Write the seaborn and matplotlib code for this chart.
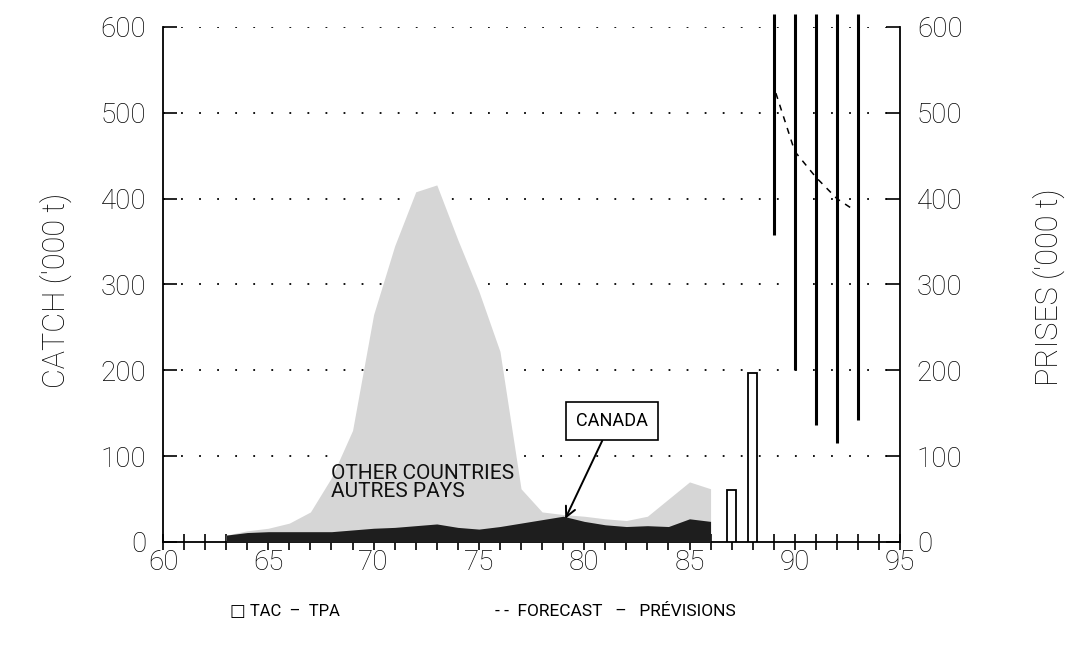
import matplotlib
matplotlib.use("Agg")
import matplotlib.pyplot as plt
import seaborn as sns
import numpy as np
import pandas as pd

# ---------------- data ----------------
years = [63, 64, 65, 66, 67, 68, 69, 70, 71, 72, 73, 74, 75, 76, 77, 78,
         79, 80, 81, 82, 83, 84, 85, 86]
canada = [8, 11, 12, 12, 12, 12, 14, 16, 17, 19, 21, 17, 15, 18, 22, 26,
          30, 24, 20, 18, 19, 18, 27, 24]
total = [8, 13, 16, 22, 35, 75, 130, 265, 345, 408, 416, 352, 292, 222, 62, 35,
         32, 30, 27, 25, 30, 50, 70, 62]

tac_years = [87, 88]
tac_values = [61, 197]

range_years = [89, 90, 91, 92, 93]
range_low = [358, 200, 136, 115, 142]
range_high = [615, 615, 615, 615, 615]

forecast_years = [89.1, 90, 91, 92, 92.8]
forecast_values = [523, 455, 425, 400, 387]

xticks = [60, 65, 70, 75, 80, 85, 90, 95]
yticks = [0, 100, 200, 300, 400, 500, 600]

# ---------------- style ----------------
sns.set_theme(style="white")
plt.rcParams['font.family'] = ['Roboto', 'DejaVu Sans']
for k in ['text.color', 'axes.labelcolor', 'xtick.color', 'ytick.color']:
    plt.rcParams[k] = 'black'

fig = plt.figure(figsize=(10.69, 6.49), dpi=100)
ax = fig.add_axes([0.1525, 0.1649, 0.842 - 0.1525, 0.9584 - 0.1649])

df = pd.DataFrame({"year": years, "canada": canada, "total": total})

# other countries (stacked total) and Canada
ax.fill_between(df["year"], 0, df["total"], color="#d6d6d6", linewidth=0, zorder=2)
ax.fill_between(df["year"], 0, df["canada"], color="#1e1e1e", linewidth=0, zorder=3)

# TAC bars
ax.bar(tac_years, tac_values, width=0.42, facecolor="white", edgecolor="black",
       linewidth=1.3, zorder=4)

# TAC ranges beyond the chart
ax.vlines(range_years, range_low, range_high, colors="black", linewidth=2.2,
          zorder=4, clip_on=False)

# forecast
fdf = pd.DataFrame({"year": forecast_years, "value": forecast_values})
sns.lineplot(data=fdf, x="year", y="value", ax=ax, color="black",
             linewidth=1.1, linestyle=(0, (4, 4)), zorder=5)

# axes
ax.set_xlim(60, 95)
ax.set_ylim(0, 600)
ax.set_xticks(xticks)
ax.set_xticks(np.arange(60, 96, 1), minor=True)
ax.set_yticks(yticks)
ax.set_xlabel("")
ax.set_ylabel("")

for s in ["left", "bottom", "right"]:
    ax.spines[s].set_visible(True)
    ax.spines[s].set_color("black")
    ax.spines[s].set_linewidth(1.3)
ax.spines["top"].set_visible(False)

ax.tick_params(axis="x", which="both", direction="inout", length=12, width=1.2,
               colors="black", labelsize=20, pad=-1, bottom=True)
ax.tick_params(axis="y", which="major", direction="in", length=10, width=1.2,
               colors="black", labelsize=20, left=True, right=True,
               labelleft=True, labelright=True, pad=12)
for lab in ax.get_xticklabels() + ax.get_yticklabels():
    lab.set_fontweight("light")

# dotted grid
for y in yticks[1:]:
    ax.axhline(y, color="black", linestyle=(0, (1, 9)), linewidth=1.3, zorder=1)

# axis titles
fig.text(0.052, 0.553, "CATCH ('000 t)", rotation=90, ha="center", va="center",
         fontsize=22, fontweight="light")
fig.text(0.981, 0.558, "PRISES ('000 t)", rotation=90, ha="center", va="center",
         fontsize=22, fontweight="light")

# annotations
ax.text(68.0, 91, "OTHER COUNTRIES\nAUTRES PAYS", fontsize=15, ha="left",
        va="top", linespacing=0.95, zorder=6, color="#111111")
ax.annotate("CANADA", xy=(79.1, 27), xytext=(81.3, 141), fontsize=13,
            ha="center", va="center", zorder=6,
            bbox=dict(boxstyle="square,pad=0.55", facecolor="white",
                      edgecolor="black", linewidth=1.2),
            arrowprops=dict(arrowstyle="->", color="black", linewidth=1.4,
                            shrinkA=0, shrinkB=0, mutation_scale=18))

# legend texts
fig.text(0.215, 0.058, "\u25A1 TAC  \u2013  TPA", fontsize=12, ha="left", va="center")
fig.text(0.463, 0.058, "- -  FORECAST   \u2013   PR\u00c9VISIONS", fontsize=12.5,
         ha="left", va="center")

fig.savefig("out.png", dpi=100, facecolor="white")
